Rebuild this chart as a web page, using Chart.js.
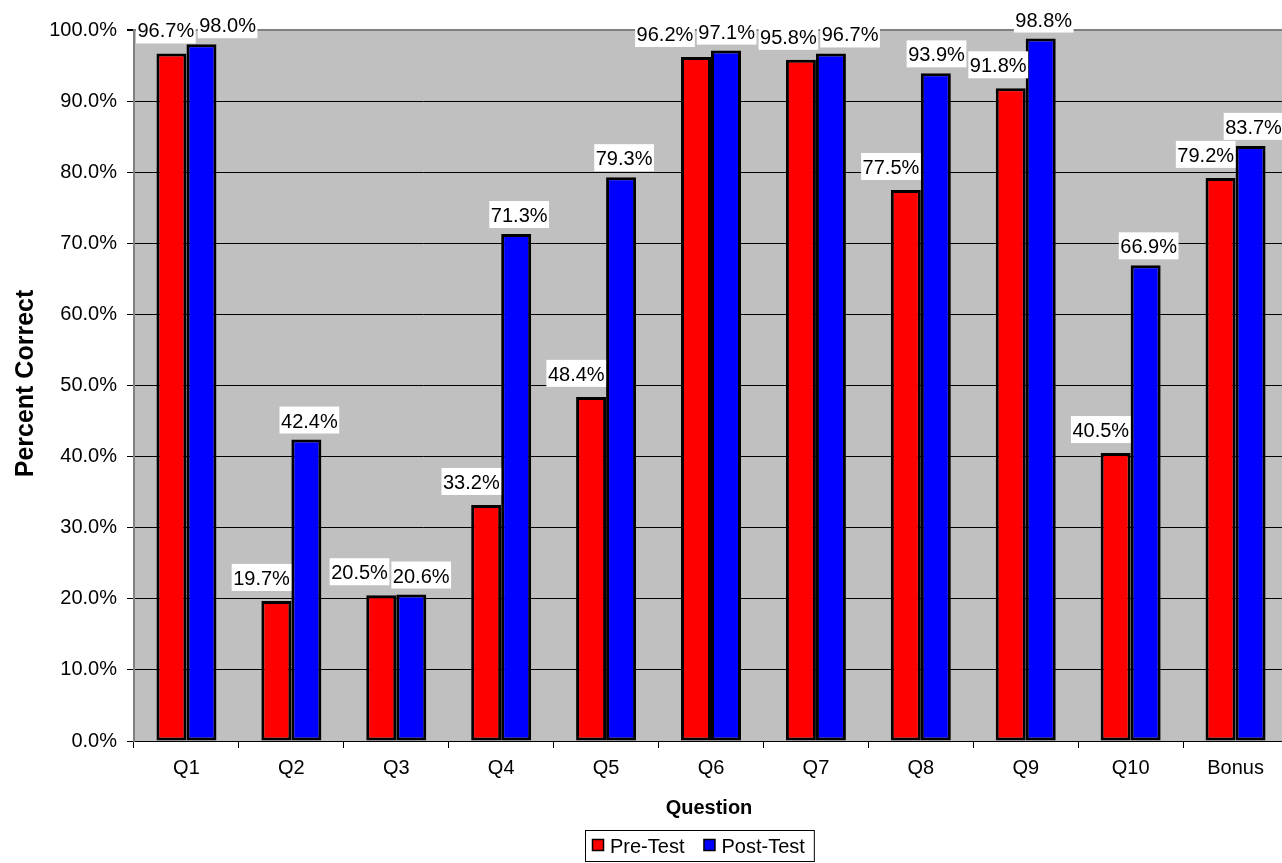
<!DOCTYPE html>
<html>
<head>
<meta charset="utf-8">
<title>Percent Correct by Question</title>
<script src="https://cdn.jsdelivr.net/npm/chart.js@4/dist/chart.umd.min.js"></script>
<style>
  html, body { margin: 0; padding: 0; background: #fff; overflow: hidden; }
  #wrap { width: 1282px; height: 863px; overflow: hidden; position: relative; }
  canvas { display: block; position: absolute; left: 0; top: 0; }
</style>
</head>
<body>
<div id="wrap"><canvas id="chart" width="1288" height="863"></canvas></div>
<script>
// Question categories and the share of correct answers (percent)
const categories = ['Q1', 'Q2', 'Q3', 'Q4', 'Q5', 'Q6', 'Q7', 'Q8', 'Q9', 'Q10', 'Bonus'];
const preTest  = [96.7, 19.7, 20.5, 33.2, 48.4, 96.2, 95.8, 77.5, 91.8, 40.5, 79.2];
const postTest = [98.0, 42.4, 20.6, 71.3, 79.3, 97.1, 96.7, 93.9, 98.8, 66.9, 83.7];
const seriesNames = ['Pre-Test', 'Post-Test'];
const yAxisTitle = 'Percent Correct';
const xAxisTitle = 'Question';

const FONT = '"Liberation Sans", Arial, Helvetica, sans-serif';
const fmt = v => v.toFixed(1) + '%';

Chart.defaults.font.family = FONT;
Chart.defaults.font.size = 20;
Chart.defaults.color = '#000';

// grey plot background
const plotBackground = {
  id: 'plotBackground',
  beforeDraw(chart) {
    const { ctx, chartArea: a } = chart;
    ctx.save();
    ctx.fillStyle = '#C0C0C0';
    ctx.fillRect(a.left, a.top, a.right - a.left, a.bottom - a.top);
    ctx.restore();
  }
};

// value labels in white boxes above each bar; colliding boxes are spread apart
const valueLabels = {
  id: 'valueLabels',
  afterDatasetsDraw(chart) {
    const ctx = chart.ctx;
    const area = chart.chartArea;
    const H = 27, GAP = 2;
    ctx.save();
    ctx.font = '20px ' + FONT;
    ctx.textBaseline = 'alphabetic';
    ctx.textAlign = 'left';

    const boxes = [];
    chart.data.datasets.forEach((ds, d) => {
      const meta = chart.getDatasetMeta(d);
      ds.data.forEach((v, i) => {
        const bar = meta.data[i];
        const t = fmt(v);
        const w = ctx.measureText(t).width + 3;
        let x, y;
        if (d === 0) {           // pre-test: box ends at the bar's right edge
          x = bar.x + bar.width / 2 - w;
          y = bar.y - 10 - H;
        } else {                 // post-test: box centred over the bar
          x = bar.x + 3 - w / 2;
          y = bar.y - 6 - H;
        }
        if (y < 4) y = 4;
        boxes.push({ x, y, w, t });
      });
    });

    const vOverlap = (a, b) => a.y < b.y + H && b.y < a.y + H;
    const hOverlap = (a, b) => a.x < b.x + b.w + GAP && b.x < a.x + a.w + GAP;

    for (let iter = 0; iter < 10; iter++) {
      boxes.sort((a, b) => a.x - b.x);
      const clusters = [];
      let cur = [boxes[0]];
      for (let k = 1; k < boxes.length; k++) {
        const bx = boxes[k];
        if (cur.some(o => vOverlap(o, bx) && hOverlap(o, bx))) cur.push(bx);
        else { clusters.push(cur); cur = [bx]; }
      }
      clusters.push(cur);
      let moved = false;
      clusters.forEach(cl => {
        if (cl.length < 2) return;
        moved = true;
        const minX = Math.min(...cl.map(b => b.x));
        const maxX = Math.max(...cl.map(b => b.x + b.w));
        const total = cl.reduce((s, b) => s + b.w, 0) + GAP * (cl.length - 1);
        let start = (minX + maxX) / 2 - total / 2;
        if (start < area.left + 2) start = area.left + 2;
        cl.forEach(b => { b.x = start; start += b.w + GAP; });
      });
      if (!moved) break;
      // stop once no neighbouring boxes collide any more
      let clash = false;
      boxes.sort((a, b) => a.x - b.x);
      for (let k = 1; k < boxes.length; k++) {
        for (let j = 0; j < k; j++) {
          if (vOverlap(boxes[j], boxes[k]) && boxes[j].x + boxes[j].w + GAP - 0.01 > boxes[k].x && boxes[k].x + boxes[k].w > boxes[j].x) clash = true;
        }
      }
      if (!clash) break;
    }

    boxes.forEach(bx => {
      ctx.fillStyle = '#fff';
      ctx.fillRect(bx.x, bx.y, bx.w, H);
      ctx.fillStyle = '#000';
      ctx.fillText(bx.t, bx.x + 1.5, bx.y + H - 6);
    });
    ctx.restore();
  }
};

// axis titles and boxed legend
const decorations = {
  id: 'decorations',
  afterDraw(chart) {
    const ctx = chart.ctx;
    const a = chart.chartArea;
    ctx.save();
    ctx.fillStyle = '#000';
    // y title
    ctx.font = 'bold 25px ' + FONT;
    ctx.textAlign = 'center';
    ctx.textBaseline = 'alphabetic';
    ctx.save();
    ctx.translate(33, (a.top + a.bottom) / 2 - 2);
    ctx.rotate(-Math.PI / 2);
    ctx.fillText(yAxisTitle, 0, 0);
    ctx.restore();
    // x title
    ctx.font = 'bold 20px ' + FONT;
    ctx.fillText(xAxisTitle, (a.left + a.right) / 2 - 2, 814);

    // legend
    ctx.font = '20px ' + FONT;
    ctx.textAlign = 'left';
    const colors = chart.data.datasets.map(d => d.backgroundColor);
    const x0 = 585, y0 = 830, boxH = 31;
    let x = x0 + 7;
    const items = [];
    seriesNames.forEach((name, k) => {
      items.push({ sx: x, tx: x + 18, name, color: colors[k] });
      x += 18 + ctx.measureText(name).width + 19;
    });
    const boxW = x - 19 + 9 - x0;
    ctx.fillStyle = '#fff';
    ctx.fillRect(x0, y0, boxW, boxH);
    ctx.strokeStyle = '#000';
    ctx.lineWidth = 1;
    ctx.strokeRect(x0 + 0.5, y0 + 0.5, boxW, boxH);
    items.forEach(it => {
      ctx.fillStyle = it.color;
      ctx.fillRect(it.sx + 0.5, 839.5, 11, 11);
      ctx.strokeStyle = '#000';
      ctx.lineWidth = 1.5;
      ctx.strokeRect(it.sx + 0.5, 839.5, 11, 11);
      ctx.fillStyle = '#000';
      ctx.fillText(it.name, it.tx, 853);
    });
    ctx.restore();
  }
};

new Chart(document.getElementById('chart'), {
  type: 'bar',
  data: {
    labels: categories,
    datasets: [
      {
        label: seriesNames[0],
        data: preTest,
        backgroundColor: '#FF0000',
        borderColor: '#000',
        borderWidth: 3,
        borderSkipped: false,
        categoryPercentage: 0.572,
        barPercentage: 1.0
      },
      {
        label: seriesNames[1],
        data: postTest,
        backgroundColor: '#0000FF',
        borderColor: '#000',
        borderWidth: 3,
        borderSkipped: false,
        categoryPercentage: 0.572,
        barPercentage: 1.0
      }
    ]
  },
  options: {
    responsive: false,
    animation: false,
    devicePixelRatio: 1,
    layout: { padding: { top: 30, right: 0, left: 0, bottom: 0 } },
    plugins: {
      legend: { display: false },
      title: { display: false },
      tooltip: { enabled: false }
    },
    scales: {
      x: {
        offset: true,
        grid: {
          offset: true,
          drawOnChartArea: false,
          drawTicks: true,
          tickLength: 7,
          color: '#000',
          tickColor: '#000'
        },
        border: { display: true, color: '#000', width: 1 },
        ticks: { padding: 8, font: { size: 20 }, color: '#000', maxRotation: 0, autoSkip: false },
        afterFit(scale) { scale.height = 122; }
      },
      y: {
        min: 0,
        max: 100,
        ticks: {
          stepSize: 10,
          padding: 10,
          font: { size: 20 },
          color: '#000',
          callback: v => fmt(v)
        },
        grid: {
          color: c => (c.tick && c.tick.value === 100 ? '#808080' : '#000'),
          lineWidth: c => (c.tick && c.tick.value === 100 ? 2 : 1),
          tickColor: '#000',
          tickLength: 7,
          drawTicks: true
        },
        border: { display: true, color: '#808080', width: 2 },
        afterFit(scale) { scale.width = 134; }
      }
    }
  },
  plugins: [plotBackground, valueLabels, decorations]
});
</script>
</body>
</html>
